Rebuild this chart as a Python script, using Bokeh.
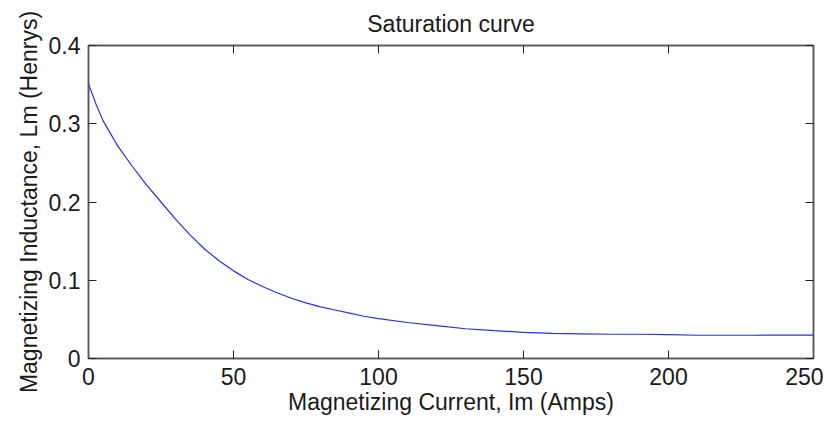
from bokeh.plotting import figure
from bokeh.models import Range1d, FixedTicker, LinearAxis
from bokeh.embed import file_html
from bokeh.resources import INLINE

# Data
current_amps = [0, 2.5, 5, 10, 15, 20, 25, 30, 35, 40, 45, 50, 55, 60, 65, 70, 75,
                80, 85, 90, 95, 100, 110, 120, 130, 140, 150, 160, 170, 180, 190,
                200, 210, 220, 230, 240, 250]
inductance_h = [0.351, 0.326, 0.304, 0.272, 0.246, 0.222, 0.200, 0.178, 0.158, 0.140,
                0.125, 0.112, 0.101, 0.092, 0.084, 0.077, 0.071, 0.066, 0.062, 0.058,
                0.054, 0.051, 0.046, 0.042, 0.038, 0.0355, 0.0335, 0.032, 0.0315,
                0.031, 0.031, 0.0305, 0.0297, 0.0297, 0.0297, 0.0300, 0.0300]
x_ticks = [0, 50, 100, 150, 200, 250]
y_ticks = [0, 0.1, 0.2, 0.3, 0.4]
y_tick_labels = ["0", "0.1", "0.2", "0.3", "0.4"]

FONT = "Liberation Sans"
FS = "23px"

p = figure(width=823, height=420, output_backend="svg", toolbar_location=None,
           x_range=Range1d(0, 250), y_range=Range1d(0, 0.4),
           min_border_left=88, min_border_right=10, min_border_top=38,
           min_border_bottom=62, title="Saturation curve")
p.title.text_font = FONT
p.title.text_font_size = FS
p.title.text_font_style = "normal"
p.title.align = "center"
p.title.text_color = "#1a1a1a"
p.title.standoff = 17

p.line(current_amps, inductance_h, line_color="#2a2aff", line_width=1.2)

p.xgrid.visible = False
p.ygrid.visible = False
p.outline_line_color = "#555555"
p.outline_line_width = 1.5

def style_axis(ax, ticks, show_labels):
    ax.ticker = FixedTicker(ticks=ticks)
    ax.minor_tick_line_color = None
    ax.major_tick_in = 8
    ax.major_tick_out = 0
    ax.major_tick_line_color = "#222222"
    ax.axis_line_color = "#555555"
    ax.axis_line_width = 1.5
    ax.major_label_text_font = FONT
    if show_labels:
        ax.major_label_text_font_size = FS
        ax.major_label_text_color = "#1a1a1a"
    else:
        ax.major_label_text_font_size = "1px"
        ax.major_label_text_color = None
    ax.axis_label_text_font = FONT
    ax.axis_label_text_font_size = FS
    ax.axis_label_text_font_style = "normal"
    ax.axis_label_text_color = "#1a1a1a"

style_axis(p.xaxis[0], x_ticks, True)
style_axis(p.yaxis[0], y_ticks, True)
p.xaxis[0].axis_label = "Magnetizing Current, Im (Amps)"
p.yaxis[0].axis_label = "Magnetizing Inductance, Lm (Henrys)"
p.xaxis[0].major_label_standoff = 9
p.xaxis[0].axis_label_standoff = 1
p.yaxis[0].major_label_standoff = 8
p.yaxis[0].axis_label_standoff = 4
p.yaxis[0].major_label_overrides = {t: s for t, s in zip(y_ticks, y_tick_labels)}

top_ax = LinearAxis()
style_axis(top_ax, x_ticks, False)
top_ax.major_label_standoff = 0
p.add_layout(top_ax, "above")
right_ax = LinearAxis()
style_axis(right_ax, y_ticks, False)
right_ax.major_label_standoff = 0
p.add_layout(right_ax, "right")

open("out.html", "w").write(file_html(p, INLINE))
